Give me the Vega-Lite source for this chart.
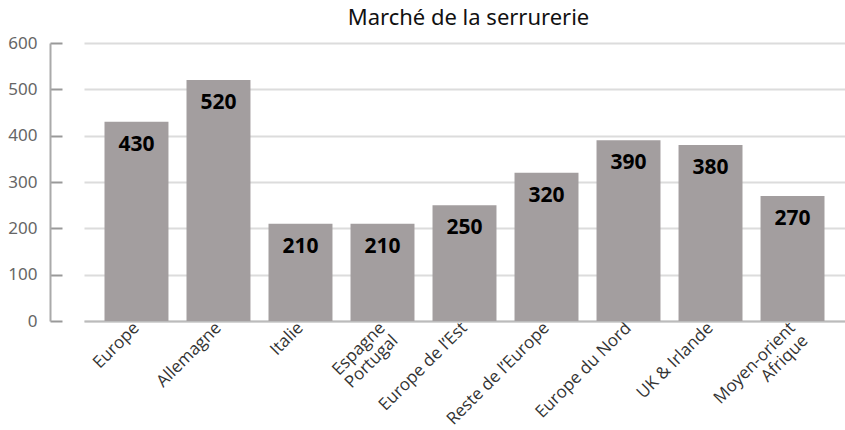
{
  "$schema": "https://vega.github.io/schema/vega-lite/v6.json",
  "width": 761,
  "height": 278,
  "autosize": {"type": "none"},
  "padding": {"left": 84, "top": 43, "right": 0, "bottom": 109},
  "background": "white",
  "title": {"text": "Marché de la serrurerie", "font": "Noto Sans", "fontSize": 22, "fontWeight": "normal", "color": "#111111", "offset": 4, "anchor": "middle", "dx": 4},
  "data": {"values": [
    {"region": "Europe", "valeur": 430},
    {"region": "Allemagne", "valeur": 520},
    {"region": "Italie", "valeur": 210},
    {"region": "Espagne|Portugal", "valeur": 210},
    {"region": "Europe de l’Est", "valeur": 250},
    {"region": "Reste de l’Europe", "valeur": 320},
    {"region": "Europe du Nord", "valeur": 390},
    {"region": "UK & Irlande", "valeur": 380},
    {"region": "Moyen-orient|Afrique", "valeur": 270}
  ]},
  "encoding": {
    "x": {"field": "region", "type": "nominal", "sort": null,
      "scale": {"paddingInner": 0.22, "paddingOuter": 0.25},
      "axis": {"title": null, "labelAngle": -45, "labelAlign": "right", "labelBaseline": "middle",
        "labelExpr": "split(datum.label, '|')", "labelFont": "Open Sans", "labelFontSize": 17, "labelColor": "#333333",
        "labelLineHeight": 18, "labelPadding": 4, "ticks": false, "domainColor": "#bbbbbb", "domainWidth": 2, "grid": false}},
    "y": {"field": "valeur", "type": "quantitative",
      "scale": {"domain": [0, 600]},
      "axis": {"title": null, "values": [0, 100, 200, 300, 400, 500, 600], "offset": 34,
        "labelFont": "Noto Sans", "labelFontSize": 17, "labelColor": "#666666", "labelPadding": 25,
        "tickSize": -12, "tickColor": "#999999", "tickWidth": 2, "domainColor": "#aaaaaa", "domainWidth": 2,
        "grid": true, "gridColor": "#dcdcdc", "gridWidth": 2}}
  },
  "layer": [
    {"mark": {"type": "bar", "color": "#a39e9f"}},
    {"mark": {"type": "text", "font": "Noto Sans", "fontSize": 21, "fontWeight": "bold", "color": "#000000", "baseline": "middle", "dy": 23},
     "encoding": {"text": {"field": "valeur", "type": "quantitative"}}}
  ],
  "config": {"view": {"stroke": null}}
}
